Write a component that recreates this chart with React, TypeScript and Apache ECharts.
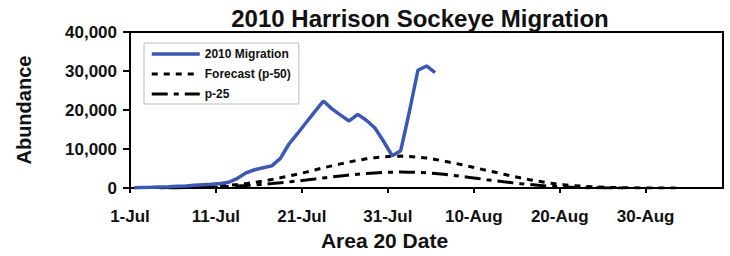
import React, { useEffect, useRef } from "react";
import * as echarts from "echarts";

// Day offsets from 1-Jul (tick at 0); points sit mid-day.
const migrationStartDay = 0.5;
const migrationValues = [
  100, 150, 200, 300, 350, 450, 550, 700, 850, 1000,
  1200, 1500, 2500, 3900, 4700, 5200, 5700, 7600, 11300, 14000,
  16800, 19600, 22300, 20300, 18700, 17200, 18900, 17400, 15400, 12000,
  8300, 9600, 19500, 30200, 31300, 29600,
];

const p50StartDay = 3.5;
const p50Values = [
  50, 80, 120, 170, 230, 320, 430, 560, 720, 920,
  1150, 1450, 1800, 2200, 2650, 3100, 3600, 4100, 4650, 5200,
  5700, 6200, 6700, 7100, 7500, 7800, 8000, 8150, 8200, 8100,
  7950, 7700, 7350, 6950, 6500, 6050, 5550, 5050, 4550, 4050,
  3550, 3050, 2600, 2150, 1750, 1400, 1100, 850, 650, 500,
  380, 280, 200, 140, 100, 70, 50, 35, 25, 15, 10,
];

const p25StartDay = 4.5;
const p25Values = [
  40, 60, 90, 130, 180, 240, 310, 400, 510, 640,
  790, 960, 1150, 1360, 1580, 1820, 2070, 2330, 2600, 2850,
  3100, 3330, 3540, 3730, 3880, 4000, 4080, 4110, 4090, 4020,
  3900, 3730, 3520, 3280, 3020, 2740, 2450, 2160, 1880, 1610,
  1360, 1120, 910, 720, 550, 410, 300, 210, 140, 90,
  60, 40, 25, 15,
];

const xTickDays = [0, 10, 20, 30, 40, 50, 60];
const xTickLabels = ["1-Jul", "11-Jul", "21-Jul", "31-Jul", "10-Aug", "20-Aug", "30-Aug"];
const yTicks = [0, 10000, 20000, 30000, 40000];

const toPairs = (start: number, vals: number[]) => vals.map((v, i) => [start + i, v]);

const FONT = "Liberation Sans";

export default function App() {
  const ref = useRef<HTMLDivElement>(null);
  useEffect(() => {
    document.body.style.margin = "0";
    const chart = echarts.init(ref.current!, null, { renderer: "svg" });
    chart.setOption({
      animation: false,
      backgroundColor: "#fff",
      title: {
        text: "2010 Harrison Sockeye Migration",
        left: 420,
        top: 6,
        padding: 0,
        textAlign: "center",
        textStyle: { fontFamily: FONT, fontWeight: "bold", fontSize: 24, color: "#111" },
      },
      legend: {
        orient: "vertical",
        left: 144,
        top: 43,
        padding: [5, 8, 4, 6],
        itemWidth: 48,
        itemHeight: 14,
        itemGap: 8,
        backgroundColor: "#fff",
        borderColor: "#bbb",
        borderWidth: 1,
        itemStyle: { opacity: 0 },
        lineStyle: { width: "inherit" },
        textStyle: { fontFamily: FONT, fontWeight: "bold", fontSize: 12, color: "#111" },
        data: ["2010 Migration", "Forecast (p-50)", "p-25"],
      },
      grid: {
        left: 130,
        right: 7,
        top: 32,
        bottom: 67,
        show: true,
        borderColor: "#000",
        borderWidth: 2,
        backgroundColor: "transparent",
      },
      xAxis: {
        type: "value",
        min: 0,
        max: 69,
        interval: 10,
        name: "Area 20 Date",
        nameLocation: "middle",
        nameGap: 25,
        nameTextStyle: {
          fontFamily: FONT,
          fontWeight: "bold",
          fontSize: 21,
          color: "#111",
          padding: [0, 84, 0, 0],
        },
        axisLine: { lineStyle: { color: "#000", width: 2 } },
        axisTick: { inside: false, length: 5, lineStyle: { color: "#000", width: 2 }, customValues: xTickDays },
        axisLabel: {
          fontFamily: FONT,
          fontWeight: "bold",
          fontSize: 17,
          color: "#111",
          margin: 20,
          customValues: xTickDays,
          formatter: (v: number) => {
            const i = xTickDays.indexOf(v);
            return i >= 0 ? xTickLabels[i] : "";
          },
        },
        splitLine: { show: false },
      },
      yAxis: {
        type: "value",
        min: 0,
        max: 40000,
        interval: 10000,
        name: "Abundance",
        nameLocation: "middle",
        nameGap: 96,
        nameTextStyle: { fontFamily: FONT, fontWeight: "bold", fontSize: 20, color: "#111" },
        axisLine: { show: true, lineStyle: { color: "#000", width: 2 } },
        axisTick: { show: true, inside: false, length: 7, lineStyle: { color: "#000", width: 2 }, customValues: yTicks },
        axisLabel: {
          fontFamily: FONT,
          fontWeight: "bold",
          fontSize: 17,
          color: "#111",
          margin: 13,
          customValues: yTicks,
          formatter: (v: number) => v.toLocaleString("en-US"),
        },
        splitLine: { show: false },
      },
      series: [
        {
          name: "2010 Migration",
          type: "line",
          symbol: "none",
          data: toPairs(migrationStartDay, migrationValues),
          lineStyle: { color: "#3d57b5", width: 3.5 },
          itemStyle: { color: "#3d57b5" },
          z: 3,
        },
        {
          name: "Forecast (p-50)",
          type: "line",
          symbol: "none",
          data: toPairs(p50StartDay, p50Values),
          lineStyle: { color: "#000", width: 3, type: [6, 6] },
          itemStyle: { color: "#000" },
          z: 2,
        },
        {
          name: "p-25",
          type: "line",
          symbol: "none",
          data: toPairs(p25StartDay, p25Values),
          lineStyle: { color: "#000", width: 3, type: [16, 6, 5, 6] },
          itemStyle: { color: "#000" },
          z: 2,
        },
      ],
    });
    return () => chart.dispose();
  }, []);
  return <div ref={ref} style={{ width: 730, height: 256 }} />;
}
